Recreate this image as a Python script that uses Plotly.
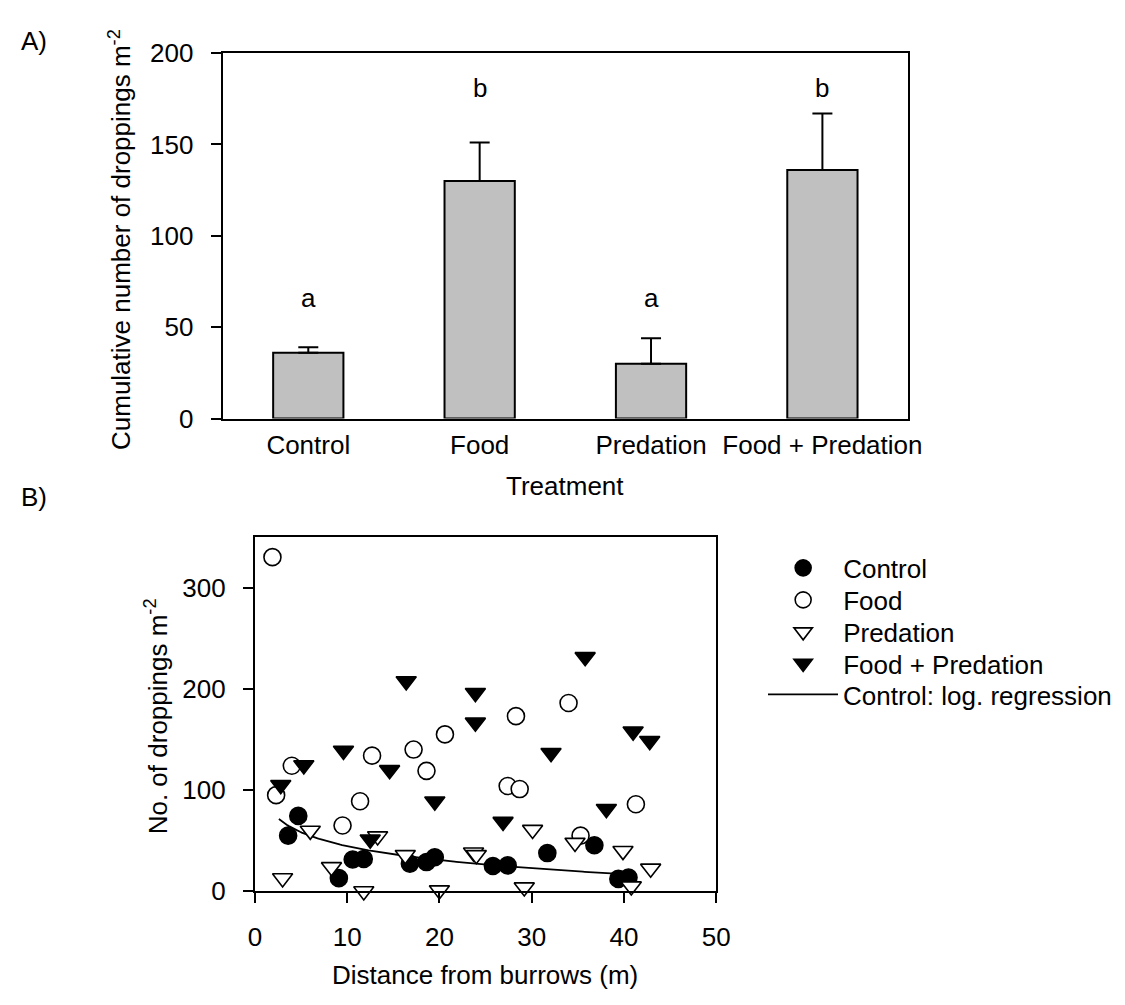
import plotly.graph_objects as go
import numpy as np

# ---------------- Panel A data ----------------
treatments = ["Control", "Food", "Predation", "Food + Predation"]
cum_means = [36, 130, 30, 136]
cum_se = [3, 21, 14, 31]
letters = ["a", "b", "a", "b"]
letter_y = [66, 181, 66, 181]

# ---------------- Panel B data ----------------
control_x = [3.6, 4.7, 9.1, 10.6, 11.8, 16.8, 18.6, 19.5, 25.8, 27.4, 31.7, 36.8, 39.4, 40.5]
control_y = [55, 74.5, 13, 31.4, 32, 27.3, 28.9, 33.7, 25, 25.6, 37.8, 45.5, 12.3, 13.6]

food_x = [1.9, 2.3, 4.0, 9.5, 11.4, 12.7, 17.2, 18.6, 20.6, 27.4, 28.7, 28.3, 34.0, 35.3, 41.3]
food_y = [330, 95, 124, 65, 89, 134, 140, 119, 155, 104, 101, 173, 186, 55, 86]

pred_x = [3.0, 6.0, 8.3, 11.8, 13.3, 16.3, 20.0, 23.7, 24.0, 29.2, 30.1, 34.7, 39.9, 40.8, 42.9]
pred_y = [13, 60, 24, 0.2, 54.4, 35.9, 1.1, 38.5, 35.9, 4, 60.8, 48, 40, 5, 22.5]

fp_x = [2.8, 5.3, 9.6, 12.5, 14.6, 16.4, 19.5, 23.9, 23.9, 26.9, 32.1, 35.8, 38.1, 41.0, 42.8]
fp_y = [105, 124.6, 139, 51.2, 119.8, 207.5, 88.8, 196, 166.7, 68.7, 136.7, 231.4, 81.5, 158, 148.5]

# log regression of control (y = a + b ln x), coefficients
reg_a = 90.3
reg_b = -19.85
reg_xmin, reg_xmax = 2.6, 40.5

FONT = "Liberation Sans, Arial, sans-serif"
FS = 26
OFF = 8  # default body margin of the written html page
W, H = 1125 - 2 * OFF, 1005 - 2 * OFF  # figure + page margins fill the window


def px_x(p):
    return (p - OFF) / W


def px_y(p):
    return 1 - (p - OFF) / H


def tfont(size=FS):
    return dict(family=FONT, size=size, color="black")


fig = go.Figure()

# Panel A bars
fig.add_trace(go.Bar(
    x=treatments, y=cum_means,
    marker=dict(color="#c0c0c0", line=dict(color="black", width=2)),
    error_y=dict(type="data", array=cum_se, arrayminus=[0] * len(cum_se),
                 symmetric=False, color="black", thickness=2, width=10),
    width=0.41, showlegend=False, xaxis="x", yaxis="y",
))

# Panel B
reg_xs = np.linspace(reg_xmin, reg_xmax, 200)
fig.add_trace(go.Scatter(
    x=reg_xs, y=reg_a + reg_b * np.log(reg_xs), mode="lines",
    line=dict(color="black", width=1.8), name="Control: log. regression",
    xaxis="x2", yaxis="y2", legend="legend5",
))
mk_line = dict(color="black", width=1.6)
fig.add_trace(go.Scatter(
    x=control_x, y=control_y, mode="markers", name="Control",
    marker=dict(symbol="circle", size=17, color="black", line=mk_line),
    xaxis="x2", yaxis="y2", cliponaxis=False, legend="legend",
))
fig.add_trace(go.Scatter(
    x=food_x, y=food_y, mode="markers", name="Food",
    marker=dict(symbol="circle", size=17, color="white", line=mk_line),
    xaxis="x2", yaxis="y2", cliponaxis=False, legend="legend2",
))
fig.add_trace(go.Scatter(
    x=pred_x, y=pred_y, mode="markers", name="Predation",
    marker=dict(symbol="triangle-down", size=17.5, color="white", line=mk_line),
    xaxis="x2", yaxis="y2", cliponaxis=False, legend="legend3",
))
fig.add_trace(go.Scatter(
    x=fp_x, y=fp_y, mode="markers", name="Food + Predation",
    marker=dict(symbol="triangle-down", size=17.5, color="black", line=mk_line),
    xaxis="x2", yaxis="y2", cliponaxis=False, legend="legend4",
))

axis_common = dict(showline=True, linecolor="black", linewidth=2, mirror=True,
                   showgrid=False, zeroline=False, tickfont=tfont())

legend_rows = [570, 603, 636, 668.5, 700.5]


def leg(ypage):
    return dict(x=px_x(772), y=px_y(ypage), xanchor="left", yanchor="middle",
                font=tfont(), itemwidth=70, bgcolor="rgba(0,0,0,0)")


annotations = [
    dict(text="A)", x=px_x(12), y=px_y(27), xanchor="left", yanchor="middle"),
    dict(text="B)", x=px_x(12), y=px_y(497), xanchor="left", yanchor="middle"),
    dict(text="Cumulative number of droppings m<sup>-2</sup>", x=px_x(115),
         y=px_y(231), textangle=-90, xanchor="center", yanchor="middle"),
    dict(text="Treatment", x=px_x(570), y=px_y(485), xanchor="center", yanchor="middle"),
    dict(text="No. of droppings m<sup>-2</sup>", x=px_x(152), y=px_y(723),
         textangle=-90, xanchor="center", yanchor="middle"),
    dict(text="Distance from burrows (m)", x=px_x(488), y=px_y(990),
         xanchor="center", yanchor="middle"),
]
for a in annotations:
    a.update(xref="paper", yref="paper", showarrow=False, font=tfont())

letter_ann = [dict(text=l, x=t, y=ly, xref="x", yref="y", showarrow=False,
                   xanchor="center", yanchor="middle", font=tfont())
              for t, l, ly in zip(treatments, letters, letter_y)]

fig.update_layout(
    width=W, height=H,
    margin=dict(l=0, r=0, t=0, b=0),
    paper_bgcolor="white", plot_bgcolor="white",
    font=tfont(),
    xaxis=dict(domain=[px_x(220), px_x(920)], anchor="y", ticks="",
               ticklabelstandoff=2, **axis_common),
    yaxis=dict(domain=[px_y(416), px_y(39)], anchor="x", range=[0, 200],
               tickvals=[0, 50, 100, 150, 200], ticks="outside", ticklen=10,
               tickwidth=2, tickcolor="black", ticklabelstandoff=12, **axis_common),
    xaxis2=dict(domain=[px_x(253), px_x(724)], anchor="y2", range=[0, 50],
                tickvals=[0, 10, 20, 30, 40, 50], ticks="outside", ticklen=10,
                tickwidth=2, tickcolor="black", ticklabelstandoff=11, **axis_common),
    yaxis2=dict(domain=[px_y(903.5), px_y(538)], anchor="x2", range=[0, 350],
                tickvals=[0, 100, 200, 300], ticks="outside", ticklen=10,
                tickwidth=2, tickcolor="black", ticklabelstandoff=12, **axis_common),
    bargap=0.59,
    legend=leg(legend_rows[0]),
    legend2=leg(legend_rows[1]),
    legend3=leg(legend_rows[2]),
    legend4=leg(legend_rows[3]),
    legend5=leg(legend_rows[4]),
    annotations=annotations + letter_ann,
)

fig.write_html("out.html")
